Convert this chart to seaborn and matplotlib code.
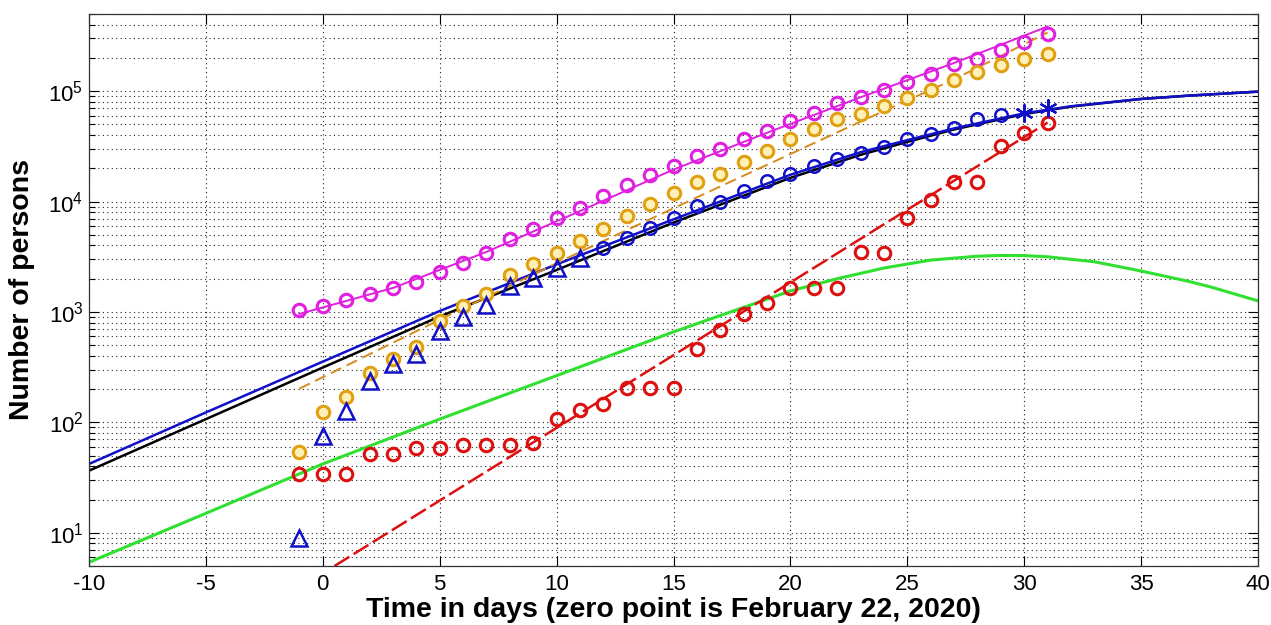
import numpy as np
import pandas as pd
import matplotlib
matplotlib.use('Agg')
import matplotlib.pyplot as plt
import seaborn as sns
from matplotlib.ticker import LogLocator, NullFormatter, FixedLocator

days_all = list(range(-1, 32))
magenta_pts = [1040, 1140, 1290, 1460, 1660, 1870, 2300, 2800, 3400, 4550, 5600,
               7050, 8700, 11200, 14100, 17400, 21000, 25800, 29800, 36800, 43500,
               53500, 63000, 78000, 88000, 102000, 120000, 143000, 175000, 195000,
               234000, 277000, 327000]
orange_pts = [54, 125, 168, 282, 377, 484, 820, 1130, 1460, 2150, 2720, 3390, 4400,
              5630, 7400, 9500, 12000, 15000, 17800, 22900, 28700, 36900, 45500,
              55800, 62000, 73000, 86000, 102000, 126000, 149000, 172000, 195000,
              216000]
red_pts = [34, 34, 34, 52, 52, 59, 59, 62, 62, 62, 65, 107, 130, 148, 206, 206, 206,
           465, 690, 960, 1210, 1650, 1650, 1650, 3500, 3400, 7100, 10300, 15000,
           15000, 31800, 41700, 51400]
tri_days = list(range(-1, 12))
tri_pts = [9, 76, 128, 235, 335, 415, 670, 900, 1160, 1730, 2050, 2500, 3100]
bcirc_days = list(range(12, 30))
bcirc_pts = [3800, 4650, 5800, 7100, 9100, 9900, 12400, 15400, 17600, 20800, 24300,
             27500, 31200, 36800, 40900, 46300, 55900, 60600]
star_days = [30, 31]
star_pts = [63200, 70000]

# model / fit curves
model_days = [-10, -5, 0, 5, 10, 15, 20, 23, 25, 27, 30, 32, 35, 37, 40]
blue_curve = [42, 123, 355, 1020, 2700, 6900, 17500, 28000, 36000, 46000, 63000,
              73000, 85000, 91000, 99000]
black_curve = [36.5, 107, 314, 910, 2400, 6450, 16400, 26500, 34700, 45000, 62000,
               72500, 85000, 91000, 99000]
green_days = [-10, -5, 0, 5, 10, 15, 18, 20, 22, 24, 26, 28, 29, 30, 31, 33, 35,
              37, 38, 40]
green_curve = [5.4, 15, 42, 107, 265, 660, 1100, 1550, 2000, 2500, 2950, 3200,
               3250, 3240, 3160, 2850, 2350, 1900, 1680, 1260]
magenta_fit_days = [-1, 3, 7, 11, 15, 19, 23, 27, 31]
magenta_fit = [960, 1650, 3500, 8200, 19500, 42000, 88000, 180000, 385000]
orange_fit_days = [-1, 5, 11, 17, 23, 27, 31]
orange_fit = [202, 850, 3500, 13700, 53000, 128000, 340000]
red_fit_days = [0.5, 31]
red_fit = [5, 52000]

plt.rcParams['font.family'] = ['Liberation Sans', 'DejaVu Sans']
plt.rcParams['mathtext.default'] = 'regular'
plt.rcParams['axes.unicode_minus'] = False

fig = plt.figure(figsize=(12.71, 6.25), dpi=100)
ax = fig.add_axes([89 / 1271, 1 - 566 / 625, 1169 / 1271, 552 / 625])

c_mag = '#E020E0'
c_org = '#E0A010'
c_orgline = '#D88A1C'
c_blue = '#1010C8'
c_green = '#30E030'
c_red = '#DD1010'

# curves
sns.lineplot(x=model_days, y=black_curve, color='black', lw=1.8, ax=ax)
sns.lineplot(x=model_days, y=blue_curve, color=c_blue, lw=1.8, ax=ax)
sns.lineplot(x=green_days, y=green_curve, color=c_green, lw=2.2, ax=ax)
sns.lineplot(x=magenta_fit_days, y=magenta_fit, color=c_mag, lw=1.4, ax=ax)
sns.lineplot(x=orange_fit_days, y=orange_fit, color=c_orgline, lw=1.4, ax=ax)
ax.lines[-1].set_dashes((6, 3))
sns.lineplot(x=red_fit_days, y=red_fit, color=c_red, lw=1.8, ax=ax)
ax.lines[-1].set_dashes((7, 2))

# observed points
sns.lineplot(x=days_all, y=magenta_pts, ls='', marker='o', ms=9, mfc='none',
             mec=c_mag, mew=2.2, ax=ax)
sns.lineplot(x=days_all, y=orange_pts, ls='', marker='o', ms=9, mfc='#FFF0B8',
             mec=c_org, mew=2.2, ax=ax)
sns.lineplot(x=days_all, y=red_pts, ls='', marker='o', ms=9, mfc='none',
             mec=c_red, mew=2.2, ax=ax)
sns.lineplot(x=tri_days, y=tri_pts, ls='', marker='^', ms=11, mfc='none',
             mec=c_blue, mew=1.8, ax=ax)
sns.lineplot(x=bcirc_days, y=bcirc_pts, ls='', marker='o', ms=9, mfc='none',
             mec=c_blue, mew=1.8, ax=ax)
sns.lineplot(x=star_days, y=star_pts, ls='', marker=(6, 2, 0), ms=13,
             mec=c_blue, mew=1.6, ax=ax)

ax.set_yscale('log')
ax.set_xlim(-10, 40)
ax.set_ylim(5, 5e5)
ax.xaxis.set_major_locator(FixedLocator(range(-10, 41, 5)))
ax.yaxis.set_major_locator(LogLocator(base=10, numticks=10))
ax.yaxis.set_minor_locator(LogLocator(base=10, subs=np.arange(2, 10), numticks=20))
ax.yaxis.set_minor_formatter(NullFormatter())

grid_ls = (0, (1, 3))
ax.grid(True, which='major', axis='both', color='#222222', lw=0.8, ls=grid_ls)
ax.grid(True, which='minor', axis='y', color='#222222', lw=0.8, ls=grid_ls)

ax.tick_params(which='both', direction='in', top=True, right=True, colors='black')
ax.tick_params(which='major', length=7, width=0.8, labelsize=16, pad=6)
ax.tick_params(which='minor', length=4, width=0.8)
ax.tick_params(axis='y', which='major', pad=4)
for s in ax.spines.values():
    s.set_linewidth(0.9)
    s.set_color('#333333')

ax.set_xlabel('Time in days (zero point is February 22, 2020)', fontsize=20.5,
              fontweight='bold')
ax.set_ylabel('Number of persons', fontsize=20.5, fontweight='bold')
ax.xaxis.set_label_coords(0.5, -0.056)
ax.yaxis.set_label_coords(-0.046, 0.5)

fig.savefig('out.png', dpi=100)
